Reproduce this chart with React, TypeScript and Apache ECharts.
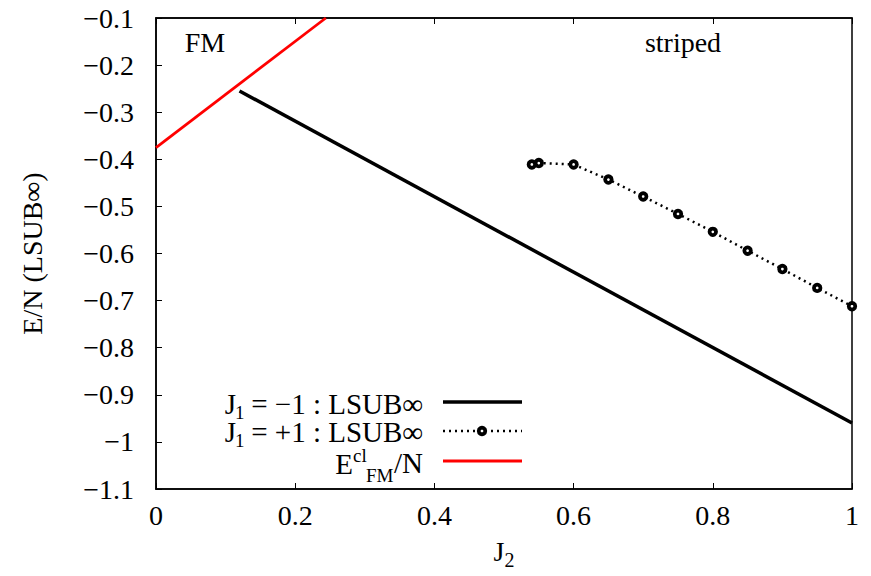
import React, { useEffect, useRef } from "react";
import * as echarts from "echarts";

const xTicks = [0, 0.2, 0.4, 0.6, 0.8, 1];
const yTicks = [-1.1, -1, -0.9, -0.8, -0.7, -0.6, -0.5, -0.4, -0.3, -0.2, -0.1];

// J1 = -1 : LSUB∞ (solid black)
const fmJ2 = [0.12, 1.0];
const fmE = [-0.255, -0.96];

// J1 = +1 : LSUB∞ (dotted with markers)
const stJ2 = [0.54, 0.55, 0.6, 0.65, 0.7, 0.75, 0.8, 0.85, 0.9, 0.95, 1.0];
const stE = [-0.411, -0.408, -0.411, -0.443, -0.479, -0.516, -0.554, -0.594, -0.633, -0.673, -0.712];

// classical FM energy (red)
const clJ2 = [0, 0.244];
const clE = [-0.375, -0.1];

const FONT = "'Liberation Serif', 'Times New Roman', serif";
const FS = 28;
const LFS = 29;
const SFS = 19;

const fmt = (v: number) => {
  const r = parseFloat(v.toFixed(1));
  return r < 0 ? "\u2212" + Math.abs(r) : String(r);
};

export default function App() {
  const ref = useRef<HTMLDivElement>(null);
  useEffect(() => {
    if (!ref.current) return;
    const chart = echarts.init(ref.current, null, { renderer: "svg" });
    const zip = (a: number[], b: number[]) => a.map((x, i) => [x, b[i]]);
    const subRich = {
      n: { fontFamily: FONT, fontSize: FS, color: "#000", lineHeight: 37 },
      sub: { fontFamily: FONT, fontSize: 20, color: "#000", lineHeight: 20, verticalAlign: "bottom" },
    };
    const txt = (text: string, x: number, y: number, size: number, align: string) => ({
      type: "text",
      x,
      y,
      style: { text, fontFamily: FONT, fontSize: size, lineHeight: Math.round(size * 0.75), fill: "#000", align, verticalAlign: "middle" },
    });
    const lx1 = 443, lx2 = 522;
    const rows = [402, 431, 461];
    chart.setOption({
      animation: false,
      backgroundColor: "#fff",
      textStyle: { fontFamily: FONT },
      grid: { left: 156, right: 19, top: 18, bottom: 87, show: true, borderColor: "#000", borderWidth: 1.5, backgroundColor: "transparent" },
      xAxis: [
        {
          type: "value",
          min: 0,
          max: 1,
          interval: 0.2,
          position: "bottom",
          axisLine: { show: true, lineStyle: { color: "#000", width: 1.5 } },
          axisTick: { show: true, inside: true, length: 6, lineStyle: { color: "#000", width: 1 } },
          splitLine: { show: false },
          axisLabel: { color: "#000", fontFamily: FONT, fontSize: FS, margin: 12, formatter: (v: number) => fmt(v) },
          name: "{n|J}{sub|2}",
          nameLocation: "middle",
          nameGap: 44,
          nameTextStyle: { rich: subRich },
        },
        {
          type: "value",
          min: 0,
          max: 1,
          interval: 0.2,
          position: "top",
          axisLine: { show: true, lineStyle: { color: "#000", width: 1.5 } },
          axisTick: { show: true, inside: true, length: 6, lineStyle: { color: "#000", width: 1 } },
          splitLine: { show: false },
          axisLabel: { show: false },
        },
      ],
      yAxis: {
        type: "value",
        min: -1.1,
        max: -0.1,
        interval: 0.1,
        axisLine: { show: true, lineStyle: { color: "#000", width: 1.5 } },
        axisTick: { show: true, inside: true, length: 6, lineStyle: { color: "#000", width: 1 } },
        splitLine: { show: false },
        axisLabel: { color: "#000", fontFamily: FONT, fontSize: FS, margin: 22, formatter: (v: number) => fmt(v) },
        name: "E/N (LSUB\u221E)",
        nameLocation: "middle",
        nameGap: 110,
        nameTextStyle: { color: "#000", fontFamily: FONT, fontSize: FS },
      },
      series: [
        {
          type: "line",
          name: "J1 = -1",
          data: zip(fmJ2, fmE),
          symbol: "none",
          lineStyle: { color: "#000", width: 3.5 },
          clip: false,
        },
        {
          type: "line",
          name: "J1 = +1",
          data: zip(stJ2, stE),
          symbol: "circle",
          symbolSize: 6.5,
          showSymbol: true,
          itemStyle: { color: "#fff", borderColor: "#000", borderWidth: 3.8 },
          lineStyle: { color: "#000", width: 2.5, type: [2, 4] },
          clip: false,
          z: 3,
        },
        {
          type: "line",
          name: "Ecl",
          data: zip(clJ2, clE),
          symbol: "none",
          lineStyle: { color: "#ff0000", width: 2.8 },
          clip: true,
        },
      ],
      graphic: [
        txt("FM", 205, 42, FS, "center"),
        txt("striped", 683, 42, FS, "center"),
        // row 1
        txt("J", 236, rows[0] + 2, LFS, "right"),
        txt("1", 235, rows[0] + 10, SFS, "left"),
        txt(" = \u22121 : LSUB\u221E", 423, rows[0] + 2, LFS, "right"),
        // row 2
        txt("J", 236, rows[1] + 1, LFS, "right"),
        txt("1", 235, rows[1] + 9, SFS, "left"),
        txt(" = +1 : LSUB\u221E", 423, rows[1] + 1, LFS, "right"),
        // row 3
        txt("E", 353, rows[2] + 3, LFS, "right"),
        txt("cl", 353, rows[2] - 6, SFS, "left"),
        txt("FM", 366, rows[2] + 14, SFS, "left"),
        txt("/N", 423, rows[2] + 2, LFS, "right"),
        { type: "line", shape: { x1: lx1, y1: rows[0], x2: lx2, y2: rows[0] }, style: { stroke: "#000", lineWidth: 3.5 } },
        { type: "line", shape: { x1: lx1, y1: rows[1], x2: lx2, y2: rows[1] }, style: { stroke: "#000", lineWidth: 2.5, lineDash: [2, 4] } },
        { type: "circle", shape: { cx: 482, cy: rows[1], r: 3.25 }, style: { fill: "#fff", stroke: "#000", lineWidth: 3.8 } },
        { type: "line", shape: { x1: lx1, y1: rows[2], x2: lx2, y2: rows[2] }, style: { stroke: "#ff0000", lineWidth: 2.8 } },
      ],
    });
    return () => chart.dispose();
  }, []);
  return <div ref={ref} style={{ position: "fixed", left: 0, top: 0, width: 871, height: 576, background: "#fff" }} />;
}
